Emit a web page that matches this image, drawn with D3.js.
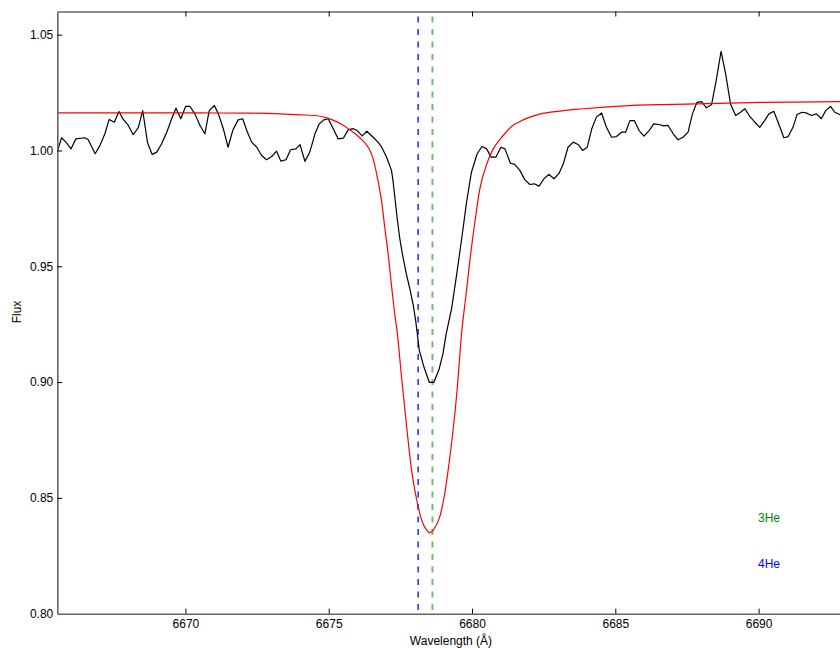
<!DOCTYPE html>
<html>
<head>
<meta charset="utf-8">
<script src="https://cdn.jsdelivr.net/npm/d3@7"></script>
<style>
  html, body { margin: 0; padding: 0; background: #fff; }
  svg { display: block; font-family: "Liberation Sans", Arial, sans-serif; }
</style>
</head>
<body>
<svg id="chart" width="840" height="648"></svg>
<script>
// ---------------- data ----------------
const obsWavelength = [
  6665.54, 6665.68, 6665.83, 6666.01, 6666.18, 6666.49, 6666.61, 6666.85, 6667.02, 6667.19,
  6667.34, 6667.52, 6667.68, 6667.83, 6668.01, 6668.18, 6668.36, 6668.51, 6668.68, 6668.84,
  6669.00, 6669.17, 6669.35, 6669.52, 6669.67, 6669.84, 6670.01, 6670.16, 6670.33, 6670.51,
  6670.68, 6670.83, 6671.01, 6671.15, 6671.32, 6671.49, 6671.65, 6671.84, 6672.00, 6672.14,
  6672.31, 6672.49, 6672.66, 6672.83, 6673.01, 6673.18, 6673.33, 6673.51, 6673.67, 6673.85,
  6674.00, 6674.17, 6674.34, 6674.52, 6674.67, 6674.83, 6674.98, 6675.16, 6675.33, 6675.51,
  6675.68, 6675.85, 6675.99, 6676.17, 6676.33, 6676.55, 6676.72, 6676.85, 6677.02, 6677.19,
  6677.25, 6677.39, 6677.48, 6677.58, 6677.72, 6677.83, 6677.95, 6678.04, 6678.16, 6678.32,
  6678.51, 6678.67, 6678.85, 6678.99, 6679.09, 6679.29, 6679.46, 6679.64, 6679.81, 6679.98,
  6680.18, 6680.35, 6680.51, 6680.67, 6680.83, 6681.01, 6681.15, 6681.34, 6681.49, 6681.67,
  6681.84, 6682.02, 6682.17, 6682.34, 6682.51, 6682.68, 6682.86, 6683.03, 6683.18, 6683.35,
  6683.53, 6683.70, 6683.86, 6684.02, 6684.18, 6684.34, 6684.52, 6684.69, 6684.87, 6685.04,
  6685.22, 6685.36, 6685.51, 6685.66, 6685.83, 6686.00, 6686.18, 6686.34, 6686.52, 6686.69,
  6686.84, 6687.02, 6687.19, 6687.36, 6687.54, 6687.69, 6687.85, 6688.01, 6688.18, 6688.36,
  6688.53, 6688.69, 6688.85, 6689.02, 6689.20, 6689.37, 6689.52, 6689.69, 6689.87, 6690.04,
  6690.21, 6690.36, 6690.53, 6690.70, 6690.88, 6691.03, 6691.20, 6691.34, 6691.52, 6691.69,
  6691.84, 6692.02, 6692.19, 6692.34, 6692.51, 6692.66, 6692.83, 6693.00
];
const obsFlux = [
  1.0000, 1.0055, 1.0036, 1.0007, 1.0050, 1.0055, 1.0046, 0.9986, 1.0022, 1.0072,
  1.0134, 1.0122, 1.0168, 1.0134, 1.0108, 1.0068, 1.0100, 1.0172, 1.0033, 0.9983,
  0.9993, 1.0029, 1.0079, 1.0137, 1.0182, 1.0137, 1.0191, 1.0190, 1.0158, 1.0108,
  1.0072, 1.0172, 1.0194, 1.0158, 1.0095, 1.0014, 1.0086, 1.0132, 1.0137, 1.0086,
  1.0036, 1.0014, 0.9978, 0.9960, 0.9974, 0.9997, 0.9954, 0.9960, 1.0003, 1.0007,
  1.0025, 0.9953, 0.9993, 1.0072, 1.0115, 1.0132, 1.0137, 1.0094, 1.0050, 1.0053,
  1.0089, 1.0094, 1.0086, 1.0063, 1.0083, 1.0057, 1.0036, 1.0014, 0.9971, 0.9914,
  0.9863, 0.9706, 0.9619, 0.9547, 0.9461, 0.9404, 0.9332, 0.9260, 0.9138, 0.9066,
  0.8999, 0.8999, 0.9055, 0.9124, 0.9203, 0.9318, 0.9461, 0.9619, 0.9777, 0.9906,
  0.9986, 1.0017, 1.0007, 0.9971, 0.9971, 1.0014, 1.0007, 0.9945, 0.9940, 0.9914,
  0.9874, 0.9853, 0.9856, 0.9846, 0.9878, 0.9897, 0.9878, 0.9900, 0.9940, 1.0014,
  1.0036, 1.0026, 1.0000, 1.0014, 1.0094, 1.0144, 1.0162, 1.0100, 1.0057, 1.0060,
  1.0079, 1.0079, 1.0129, 1.0129, 1.0086, 1.0062, 1.0086, 1.0115, 1.0112, 1.0106,
  1.0108, 1.0072, 1.0046, 1.0057, 1.0079, 1.0158, 1.0208, 1.0211, 1.0184, 1.0198,
  1.0309, 1.0428, 1.0331, 1.0201, 1.0151, 1.0165, 1.0180, 1.0147, 1.0122, 1.0100,
  1.0129, 1.0158, 1.0169, 1.0115, 1.0055, 1.0060, 1.0100, 1.0155, 1.0165, 1.0161,
  1.0151, 1.0158, 1.0137, 1.0172, 1.0190, 1.0165, 1.0155, 1.0150
];

const modelWavelength = [
  6665.53, 6670.51, 6672.25, 6673.30, 6674.00, 6674.58, 6674.87, 6675.15, 6675.43, 6675.74,
  6675.92, 6676.09, 6676.32, 6676.44, 6676.55, 6676.73, 6676.85, 6676.96, 6677.08, 6677.19,
  6677.31, 6677.39, 6677.54, 6677.72, 6677.89, 6678.07, 6678.24, 6678.41, 6678.53, 6678.67,
  6678.88, 6679.05, 6679.20, 6679.34, 6679.48, 6679.64, 6679.79, 6679.92, 6680.10, 6680.27,
  6680.51, 6680.74, 6680.97, 6681.21, 6681.40, 6681.67, 6682.02, 6682.37, 6683.07, 6683.77,
  6685.48, 6687.83, 6690.15, 6692.83, 6693.50
];
const modelFlux = [
  1.0162, 1.0162, 1.0161, 1.0158, 1.0154, 1.0150, 1.0143, 1.0131, 1.0114, 1.0089,
  1.0073, 1.0054, 1.0024, 1.0000, 0.9964, 0.9863, 0.9777, 0.9663, 0.9547, 0.9418,
  0.9289, 0.9216, 0.9023, 0.8807, 0.8621, 0.8492, 0.8405, 0.8362, 0.8350, 0.8365,
  0.8420, 0.8520, 0.8650, 0.8793, 0.8966, 0.9216, 0.9375, 0.9519, 0.9691, 0.9832,
  0.9940, 1.0007, 1.0047, 1.0082, 1.0106, 1.0125, 1.0144, 1.0157, 1.0170, 1.0179,
  1.0194, 1.0201, 1.0208, 1.0211, 1.0212
];

const lineNames = ["4He", "3He"];
const lineWavelengths = [6678.12, 6678.62];
const lineColors = ["#0000ff", "#008000"];

const xTicks = [6670, 6675, 6680, 6685, 6690];
const yTicks = [0.80, 0.85, 0.90, 0.95, 1.00, 1.05];

// ---------------- chart ----------------
const svg = d3.select("#chart");
const pLeft = 57.3, pRight = 840, pTop = 11.5, pBottom = 613.7;

const x = d3.scaleLinear().domain([6665.53, 6692.84]).range([pLeft, pRight]);
const y = d3.scaleLinear().domain([0.80, 1.06]).range([pBottom, pTop]);

svg.append("defs").append("clipPath").attr("id", "plotclip")
  .append("rect").attr("x", pLeft).attr("y", pTop).attr("width", pRight - pLeft + 5).attr("height", pBottom - pTop);

const plot = svg.append("g").attr("clip-path", "url(#plotclip)");

// vertical reference lines
plot.selectAll("line.ref").data(lineWavelengths).enter().append("line")
  .attr("class", "ref")
  .attr("x1", d => x(d)).attr("x2", d => x(d))
  .attr("y1", pTop).attr("y2", pBottom)
  .attr("stroke", (d, i) => lineColors[i])
  .attr("stroke-width", (d, i) => i === 0 ? 1.3 : 2)
  .attr("stroke-opacity", (d, i) => i === 0 ? 1 : 0.55)
  .attr("stroke-dasharray", "6,6.5")
  .attr("stroke-dashoffset", -5);

// observed spectrum
const obs = obsWavelength.map((w, i) => [w, obsFlux[i]]);
plot.append("path").datum(obs)
  .attr("fill", "none").attr("stroke", "#000").attr("stroke-width", 1.2)
  .attr("stroke-linejoin", "round")
  .attr("d", d3.line().x(d => x(d[0])).y(d => y(d[1])));

// model
const mod = modelWavelength.map((w, i) => [w, modelFlux[i]]);
plot.append("path").datum(mod)
  .attr("fill", "none").attr("stroke", "#ff0000").attr("stroke-width", 1.2)
  .attr("d", d3.line().curve(d3.curveMonotoneX).x(d => x(d[0])).y(d => y(d[1])));

// axes
const axisColor = "#666";
const gx = svg.append("g").attr("transform", `translate(0,${pBottom})`)
  .call(d3.axisBottom(x).tickValues(xTicks).tickFormat(d3.format("d"))
        .tickSizeInner(-5).tickSizeOuter(0).tickPadding(6));
const gxTop = svg.append("g").attr("transform", `translate(0,${pTop})`)
  .call(d3.axisTop(x).tickValues(xTicks).tickFormat("")
        .tickSizeInner(-5).tickSizeOuter(0));
const gy = svg.append("g").attr("transform", `translate(${pLeft},0)`)
  .call(d3.axisLeft(y).tickValues(yTicks).tickFormat(d3.format(".2f"))
        .tickSizeInner(-5).tickSizeOuter(0).tickPadding(4));

[gx, gxTop, gy].forEach(g => {
  g.select(".domain").attr("stroke", axisColor).attr("stroke-width", 1.6);
  g.selectAll(".tick line").attr("stroke", "#000").attr("stroke-width", 1);
  g.selectAll(".tick text").attr("fill", "#000").attr("font-size", 12)
    .attr("font-family", "Liberation Sans, Arial, sans-serif");
});
gy.selectAll(".tick").filter(d => d === 0.80).select("line").remove();

// axis labels
svg.append("text").attr("x", 451).attr("y", 645).attr("text-anchor", "middle")
  .attr("font-size", 12).text("Wavelength (Å)");
svg.append("text").attr("transform", "translate(21,312) rotate(-90)")
  .attr("text-anchor", "middle").attr("font-size", 12).text("Flux");

// line labels
svg.append("text").attr("x", 758).attr("y", 521.5).attr("font-size", 12)
  .attr("fill", lineColors[1]).text(lineNames[1]);
svg.append("text").attr("x", 758).attr("y", 568).attr("font-size", 12)
  .attr("fill", lineColors[0]).text(lineNames[0]);
</script>
</body>
</html>
